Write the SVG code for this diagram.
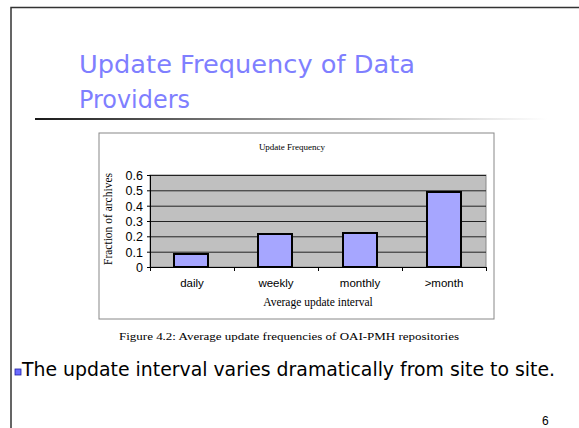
<svg xmlns="http://www.w3.org/2000/svg" width="579" height="428" viewBox="0 0 579 428">
  <style>
    .title { font-family: "DejaVu Sans", "Liberation Sans", sans-serif; font-size: 25px; fill: #7f7fff; }
    .serif { font-family: "Liberation Serif", serif; fill: #000; }
    .sans { font-family: "Liberation Sans", Arial, sans-serif; fill: #000; }
    .body { font-family: "DejaVu Sans", "Liberation Sans", sans-serif; fill: #000; }
    .grid { stroke: #222; stroke-width: 1; }
    .bar { fill: #a6a6ff; stroke: #000; stroke-width: 2; }
  </style>
  <defs>
    <linearGradient id="ul" x1="0" y1="0" x2="1" y2="0">
      <stop offset="0" stop-color="#1a1a1a"/>
      <stop offset="0.5" stop-color="#999"/>
      <stop offset="1" stop-color="#fff"/>
    </linearGradient>
  </defs>
  <rect x="0" y="0" width="579" height="428" fill="#fff"/>
  <g id="frame">
    <path d="M11 428 V7.5 H579" fill="none" stroke="#333" stroke-width="1.5"/>
  </g>
  <g id="title">
    <text class="title" x="79" y="73" textLength="336" lengthAdjust="spacingAndGlyphs">Update Frequency of Data</text>
    <text class="title" x="79" y="108" textLength="111" lengthAdjust="spacingAndGlyphs">Providers</text>
    <rect x="35" y="118" width="512" height="2" fill="url(#ul)"/>
  </g>
  <g id="chart">
    <rect x="99" y="133" width="395" height="186" fill="#fff" stroke="#888" stroke-width="1"/>
    <text class="serif" x="292" y="150" font-size="9" text-anchor="middle">Update Frequency</text>
    <rect x="150" y="175" width="336" height="92" fill="#c0c0c0" stroke="#888" stroke-width="1"/>
    <g class="grid">
      <line x1="150" y1="175.5" x2="486" y2="175.5"/>
      <line x1="150" y1="190.8" x2="486" y2="190.8"/>
      <line x1="150" y1="206.2" x2="486" y2="206.2"/>
      <line x1="150" y1="221.5" x2="486" y2="221.5"/>
      <line x1="150" y1="236.8" x2="486" y2="236.8"/>
      <line x1="150" y1="252.2" x2="486" y2="252.2"/>
    </g>
    <g id="bars">
      <rect class="bar" x="174" y="254" width="34" height="13"/>
      <rect class="bar" x="258" y="234" width="34" height="33"/>
      <rect class="bar" x="343" y="233" width="34" height="34"/>
      <rect class="bar" x="427" y="192" width="34" height="75"/>
    </g>
    <g stroke="#000" stroke-width="1">
      <line x1="150.5" y1="175" x2="150.5" y2="267.5"/>
      <line x1="150" y1="267.5" x2="486" y2="267.5"/>
      <line x1="147" y1="175.5" x2="150" y2="175.5"/>
      <line x1="147" y1="190.8" x2="150" y2="190.8"/>
      <line x1="147" y1="206.2" x2="150" y2="206.2"/>
      <line x1="147" y1="221.5" x2="150" y2="221.5"/>
      <line x1="147" y1="236.8" x2="150" y2="236.8"/>
      <line x1="147" y1="252.2" x2="150" y2="252.2"/>
      <line x1="147" y1="267.5" x2="150" y2="267.5"/>
      <line x1="150.5" y1="267" x2="150.5" y2="271"/>
      <line x1="234.5" y1="267" x2="234.5" y2="271"/>
      <line x1="318.5" y1="267" x2="318.5" y2="271"/>
      <line x1="402.5" y1="267" x2="402.5" y2="271"/>
      <line x1="486.5" y1="267" x2="486.5" y2="271"/>
    </g>
    <g class="sans" font-size="12.5" text-anchor="end">
      <text x="143" y="180">0.6</text>
      <text x="143" y="195">0.5</text>
      <text x="143" y="210.5">0.4</text>
      <text x="143" y="226">0.3</text>
      <text x="143" y="241">0.2</text>
      <text x="143" y="256.5">0.1</text>
      <text x="143" y="272">0</text>
    </g>
    <g class="sans" font-size="11.5" text-anchor="middle">
      <text x="192" y="287">daily</text>
      <text x="276" y="287">weekly</text>
      <text x="360" y="287">monthly</text>
      <text x="444" y="287">&gt;month</text>
    </g>
    <text class="serif" x="318" y="306" font-size="11.5" text-anchor="middle">Average update interval</text>
    <text class="serif" font-size="11.5" text-anchor="middle" transform="translate(112,219) rotate(-90)">Fraction of archives</text>
  </g>
  <g id="caption">
    <text class="serif" x="289" y="340" font-size="10.5" text-anchor="middle" textLength="340" lengthAdjust="spacingAndGlyphs">Figure 4.2: Average update frequencies of OAI-PMH repositories</text>
  </g>
  <g id="bullet">
    <rect x="15" y="369" width="6" height="6" fill="#6b6bff" stroke="#2020a0" stroke-width="0.8"/>
    <text class="body" x="22" y="376" font-size="19" textLength="533" lengthAdjust="spacingAndGlyphs">The update interval varies dramatically from site to site.</text>
  </g>
  <text class="sans" x="542" y="425" font-size="12">6</text>
</svg>
